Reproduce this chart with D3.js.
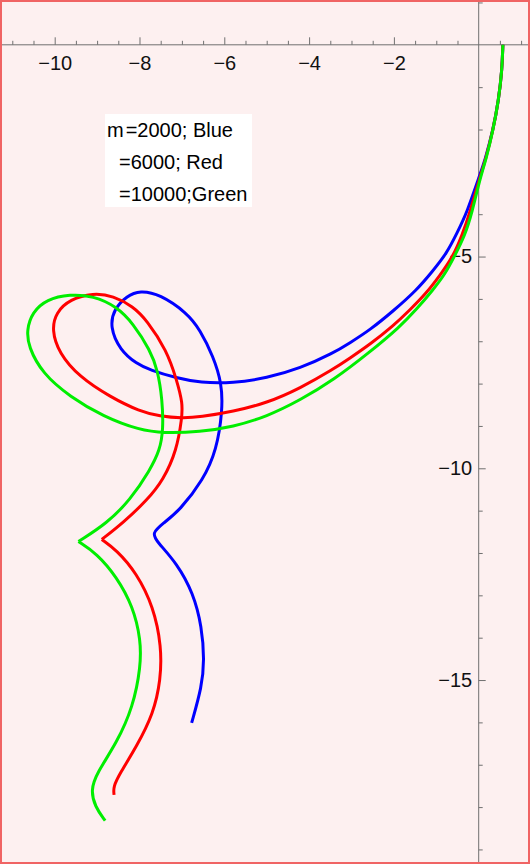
<!DOCTYPE html>
<html>
<head>
<meta charset="utf-8">
<script src="https://cdn.jsdelivr.net/npm/d3@7"></script>
<style>
  html, body { margin: 0; padding: 0; background: #ffffff; }
  svg { display: block; }
  text { font-family: "Liberation Sans", Arial, sans-serif; }
</style>
</head>
<body>
<svg id="chart" width="530" height="864"></svg>
<script>
// ---- data (x, y) ----
const blueCurve = [
  [0.57,0.00],[0.55,-0.60],[0.47,-1.30],[0.34,-2.01],[0.15,-2.72],[0.01,-3.12],
  [-0.28,-3.97],[-0.51,-4.44],[-0.75,-4.92],[-1.10,-5.36],[-1.46,-5.79],[-2.02,-6.29],
  [-2.56,-6.73],[-3.04,-7.04],[-3.43,-7.28],[-4.21,-7.64],[-5.00,-7.87],[-5.79,-7.99],
  [-6.57,-7.98],[-7.12,-7.87],[-7.75,-7.68],[-8.07,-7.53],[-8.46,-7.21],[-8.70,-6.66],
  [-8.60,-6.24],[-8.30,-5.93],[-7.99,-5.80],[-7.52,-5.89],[-6.88,-6.33],[-6.57,-6.73],
  [-6.26,-7.36],[-6.06,-7.99],[-6.04,-8.62],[-6.18,-9.57],[-6.50,-10.28],[-7.04,-10.98],
  [-7.44,-11.30],[-7.71,-11.53],[-7.59,-11.73],[-7.12,-12.24],[-6.73,-12.95],[-6.53,-13.74],
  [-6.47,-14.53],[-6.53,-15.16],[-6.77,-16.01]
];
const redCurve = [
  [0.57,0.00],[0.55,-0.60],[0.47,-1.30],[0.34,-2.01],[0.16,-2.72],[0.03,-3.12],
  [-0.21,-3.97],[-0.39,-4.49],[-0.61,-5.01],[-0.91,-5.44],[-1.23,-5.86],[-1.62,-6.26],
  [-2.02,-6.64],[-2.56,-7.07],[-3.04,-7.40],[-3.43,-7.66],[-4.21,-8.11],[-5.00,-8.46],
  [-5.79,-8.66],[-6.57,-8.79],[-7.00,-8.82],[-7.52,-8.77],[-7.99,-8.66],[-8.70,-8.31],
  [-9.42,-7.84],[-9.90,-7.28],[-10.07,-6.73],[-9.97,-6.32],[-9.64,-6.01],[-9.09,-5.86],
  [-8.62,-5.93],[-8.15,-6.18],[-7.83,-6.50],[-7.36,-7.21],[-7.12,-7.92],[-6.98,-8.47],
  [-7.00,-8.81],[-7.12,-9.57],[-7.44,-10.28],[-7.82,-10.75],[-8.39,-11.29],[-8.89,-11.68],
  [-8.54,-11.93],[-8.07,-12.47],[-7.67,-13.27],[-7.48,-14.21],[-7.50,-15.00],[-7.67,-15.79],
  [-8.07,-16.57],[-8.46,-17.20],[-8.62,-17.52],[-8.60,-17.71]
];
const greenCurve = [
  [0.57,0.00],[0.55,-0.60],[0.47,-1.30],[0.34,-2.01],[0.17,-2.72],[0.04,-3.12],
  [-0.16,-3.97],[-0.32,-4.49],[-0.58,-5.01],[-0.79,-5.41],[-1.08,-5.79],[-1.46,-6.24],
  [-1.86,-6.66],[-2.56,-7.25],[-3.43,-7.92],[-4.21,-8.39],[-5.00,-8.78],[-5.79,-9.02],
  [-6.57,-9.14],[-7.44,-9.17],[-7.99,-9.10],[-8.85,-8.78],[-9.64,-8.31],[-10.29,-7.76],
  [-10.62,-7.13],[-10.66,-6.73],[-10.53,-6.32],[-10.19,-6.01],[-9.64,-5.89],[-9.09,-5.93],
  [-8.54,-6.18],[-8.15,-6.58],[-7.75,-7.21],[-7.57,-7.68],[-7.46,-8.39],[-7.44,-9.10],
  [-7.52,-9.57],[-7.75,-10.04],[-8.22,-10.75],[-8.77,-11.30],[-9.44,-11.73],[-9.01,-12.01],
  [-8.54,-12.56],[-8.15,-13.27],[-7.97,-14.05],[-7.97,-14.68],[-8.15,-15.63],[-8.54,-16.49],
  [-9.01,-17.20],[-9.15,-17.60],[-9.05,-17.99],[-8.81,-18.32]
];
const seriesNames = ["Blue", "Red", "Green"];
const seriesColors = ["#0000ff", "#ff0000", "#00ee00"];
const legendLines = ["=2000; Blue", "=6000; Red", "=10000;Green"];
const xMajorTicks = [-10, -8, -6, -4, -2];
const yMajorTicks = [-5, -10, -15];

// ---- chart ----
const W = 530, H = 864;
const svg = d3.select("#chart");
const x = d3.scaleLinear().domain([-11.29, 1.21]).range([0, W]);
const y = d3.scaleLinear().domain([1.058, -19.344]).range([0, H]);

svg.append("rect").attr("x", 0).attr("y", 0).attr("width", W).attr("height", H)
  .attr("fill", "#fdf0f0");

const axisColor = "#707070";
const fmt = d => d3.format("d")(d).replace("-", "\u2212");

// x axis: ticks point up, labels below
const xMinor = d3.range(-11, 1.01, 0.5).filter(v => !xMajorTicks.includes(v) && v !== 0);
const gx = svg.append("g").attr("transform", `translate(0,${y(0)})`);
gx.append("g").call(d3.axisBottom(x).tickValues(xMinor).tickSize(-4).tickSizeOuter(0).tickFormat(""));
gx.append("g").call(d3.axisBottom(x).tickValues(xMajorTicks).tickSize(-7.5).tickSizeOuter(0).tickPadding(11).tickFormat(fmt));
gx.selectAll(".domain").remove();
gx.selectAll("line").attr("stroke", axisColor);
gx.selectAll("text").attr("font-size", 20).attr("fill", "#111").attr("font-family", "'Liberation Sans', Arial, sans-serif");
gx.append("line").attr("x1", 0).attr("x2", W).attr("y1", 0).attr("y2", 0)
  .attr("stroke", axisColor).attr("stroke-width", 1);

// y axis: ticks point right, labels left
const yMinor = d3.range(1, -19.5, -1).filter(v => !yMajorTicks.includes(v) && v !== 0);
const gy = svg.append("g").attr("transform", `translate(${x(0)},0)`);
gy.append("g").call(d3.axisLeft(y).tickValues(yMinor).tickSize(-4).tickSizeOuter(0).tickFormat(""));
gy.append("g").call(d3.axisLeft(y).tickValues(yMajorTicks).tickSize(-7).tickSizeOuter(0).tickPadding(6.5).tickFormat(fmt));
gy.selectAll(".domain").remove();
gy.selectAll("line").attr("stroke", axisColor);
gy.selectAll("text").attr("font-size", 20).attr("fill", "#111").attr("font-family", "'Liberation Sans', Arial, sans-serif");
gy.append("line").attr("x1", 0).attr("x2", 0).attr("y1", 0).attr("y2", H)
  .attr("stroke", axisColor).attr("stroke-width", 1);

// curves: smooth B-spline, split at the cusp (sharpest turn) so it stays sharp
function splitAtCusp(pts) {
  let best = -1, bestTurn = 0;
  for (let i = 1; i < pts.length - 1; i++) {
    const a = [x(pts[i][0]) - x(pts[i-1][0]), y(pts[i][1]) - y(pts[i-1][1])];
    const b = [x(pts[i+1][0]) - x(pts[i][0]), y(pts[i+1][1]) - y(pts[i][1])];
    const cos = (a[0]*b[0] + a[1]*b[1]) / (Math.hypot(...a) * Math.hypot(...b));
    const turn = Math.acos(Math.max(-1, Math.min(1, cos)));
    if (turn > bestTurn) { bestTurn = turn; best = i; }
  }
  return bestTurn > 1.5 ? [pts.slice(0, best + 1), pts.slice(best)] : [pts];
}
const line = d3.line().x(d => x(d[0])).y(d => y(d[1])).curve(d3.curveBasis);
const curves = [blueCurve, redCurve, greenCurve];
const gc = svg.append("g");
curves.forEach((c, i) => {
  const d = splitAtCusp(c).map(seg => line(seg)).join("");
  gc.append("path")
    .attr("d", d)
    .attr("fill", "none")
    .attr("stroke", seriesColors[i])
    .attr("stroke-width", 3)
    .attr("stroke-linejoin", "miter")
    .attr("stroke-miterlimit", 4);
});

// legend
const lg = svg.append("g");
lg.append("rect").attr("x", 105).attr("y", 114).attr("width", 147).attr("height", 93).attr("fill", "#ffffff");
const t1 = lg.append("text").attr("x", 107).attr("y", 137).attr("font-size", 20).attr("fill", "#000");
t1.append("tspan").text("m");
t1.append("tspan").attr("dx", 2).text(legendLines[0]);
lg.append("text").attr("x", 119).attr("y", 169).attr("font-size", 20).attr("fill", "#000").text(legendLines[1]);
lg.append("text").attr("x", 119).attr("y", 201).attr("font-size", 20).attr("fill", "#000").text(legendLines[2]);

// frame
svg.append("rect").attr("x", 1).attr("y", 1).attr("width", W - 2).attr("height", H - 2)
  .attr("fill", "none").attr("stroke", "#f06464").attr("stroke-width", 2);
</script>
</body>
</html>
